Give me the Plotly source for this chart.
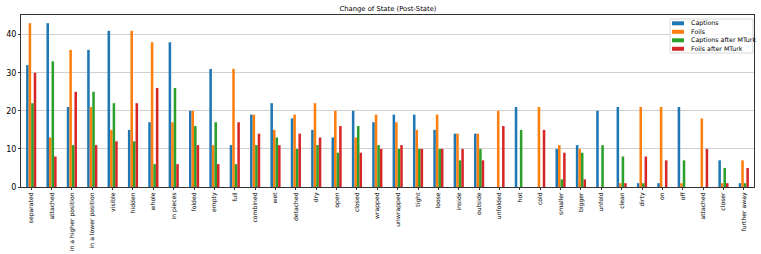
import plotly.graph_objects as go

categories = ["separated", "attached", "in a higher position", "in a lower position", "visible",
              "hidden", "whole", "in pieces", "folded", "empty", "full", "combined", "wet",
              "detached", "dry", "open", "closed", "wrapped", "unwrapped", "tight", "loose",
              "inside", "outside", "unfolded", "hot", "cold", "smaller", "bigger", "unfold",
              "clean", "dirty", "on", "off", "attached", "closer", "further away"]

captions = [32, 43, 21, 36, 41, 15, 17, 38, 20, 31, 11, 19, 22, 18, 15, 13, 20, 17, 19, 19, 15,
            14, 14, 0, 21, 0, 10, 11, 20, 21, 1, 1, 21, 0, 7, 1]
foils = [43, 13, 36, 21, 15, 41, 38, 17, 20, 11, 31, 19, 15, 19, 22, 20, 13, 19, 17, 15, 19,
         14, 14, 20, 0, 21, 11, 10, 0, 1, 21, 21, 1, 18, 1, 7]
captions_mturk = [22, 33, 11, 25, 22, 12, 6, 26, 16, 17, 6, 11, 13, 10, 11, 9, 16, 11, 10, 10, 10,
                  7, 10, 0, 15, 0, 2, 9, 11, 8, 1, 0, 7, 0, 5, 1]
foils_mturk = [30, 8, 25, 11, 12, 22, 26, 6, 11, 6, 17, 14, 11, 14, 13, 16, 9, 10, 11, 10, 10,
               10, 7, 16, 0, 15, 9, 2, 0, 1, 8, 7, 0, 10, 1, 5]

series = [("Captions", captions, "#1f77b4"),
          ("Foils", foils, "#ff7f0e"),
          ("Captions after MTurk", captions_mturk, "#2ca02c"),
          ("Foils after MTurk", foils_mturk, "#d62728")]

W, H = 761, 254
L, R, T, B = 21, 7, 15, 67
pw, ph = W - L - R, H - T - B


def px_x(p):
    return (p - L) / pw


def px_y(p):
    return (H - B - p) / ph


xpos = list(range(len(categories)))

fig = go.Figure()
for name, vals, color in series:
    fig.add_trace(go.Bar(x=xpos, y=vals, name=name, showlegend=False,
                         marker=dict(color=color, line=dict(width=0))))

# manual legend (matplotlib style, compact)
shapes = [dict(type="rect", xref="paper", yref="paper",
               x0=px_x(670), x1=px_x(753), y0=px_y(53), y1=px_y(19),
               line=dict(color="#d8d8d8", width=1), fillcolor="rgba(255,255,255,0.85)",
               layer="above")]
annotations = []
row_y = [23.3, 31.8, 40.3, 48.8]
for (name, vals, color), ry in zip(series, row_y):
    shapes.append(dict(type="rect", xref="paper", yref="paper",
                       x0=px_x(672), x1=px_x(684), y0=px_y(ry + 2), y1=px_y(ry - 2),
                       line=dict(width=0), fillcolor=color, layer="above"))
    annotations.append(dict(text=name, xref="paper", yref="paper", x=px_x(688.5), y=px_y(ry),
                            xanchor="left", yanchor="middle", showarrow=False,
                            font=dict(size=6.3, color="black")))

fig.update_layout(
    width=W, height=H,
    margin=dict(l=L, r=R, t=T, b=B, autoexpand=False),
    paper_bgcolor="white", plot_bgcolor="white",
    barmode="group", bargap=0.5, bargroupgap=0,
    font=dict(family="DejaVu Sans", color="black"),
    title=dict(text="Change of State (Post-State)", x=388 / W, xanchor="center",
               y=1 - 9 / H, yanchor="middle", font=dict(size=6.8)),
    shapes=shapes, annotations=annotations,
    showlegend=False,
)
fig.update_xaxes(range=[-0.5, len(categories) - 0.5], tickmode="array", tickvals=xpos,
                 ticktext=categories, tickangle=-90, tickfont=dict(size=6.1), automargin=False,
                 showline=True, linecolor="#333333", linewidth=1, mirror=True,
                 ticks="outside", ticklen=2, tickcolor="#333333", showgrid=False, zeroline=False)
fig.update_yaxes(range=[0, 45.15], tickvals=[0, 10, 20, 30, 40], tickfont=dict(size=8),
                 automargin=False,
                 showline=True, linecolor="#333333", linewidth=1, mirror=True,
                 ticks="outside", ticklen=2, tickcolor="#333333",
                 showgrid=True, gridcolor="#d0d0d0", gridwidth=1, zeroline=False)

fig.write_html("out.html", config={"displayModeBar": False},
               post_script="document.body.style.margin='0';")
